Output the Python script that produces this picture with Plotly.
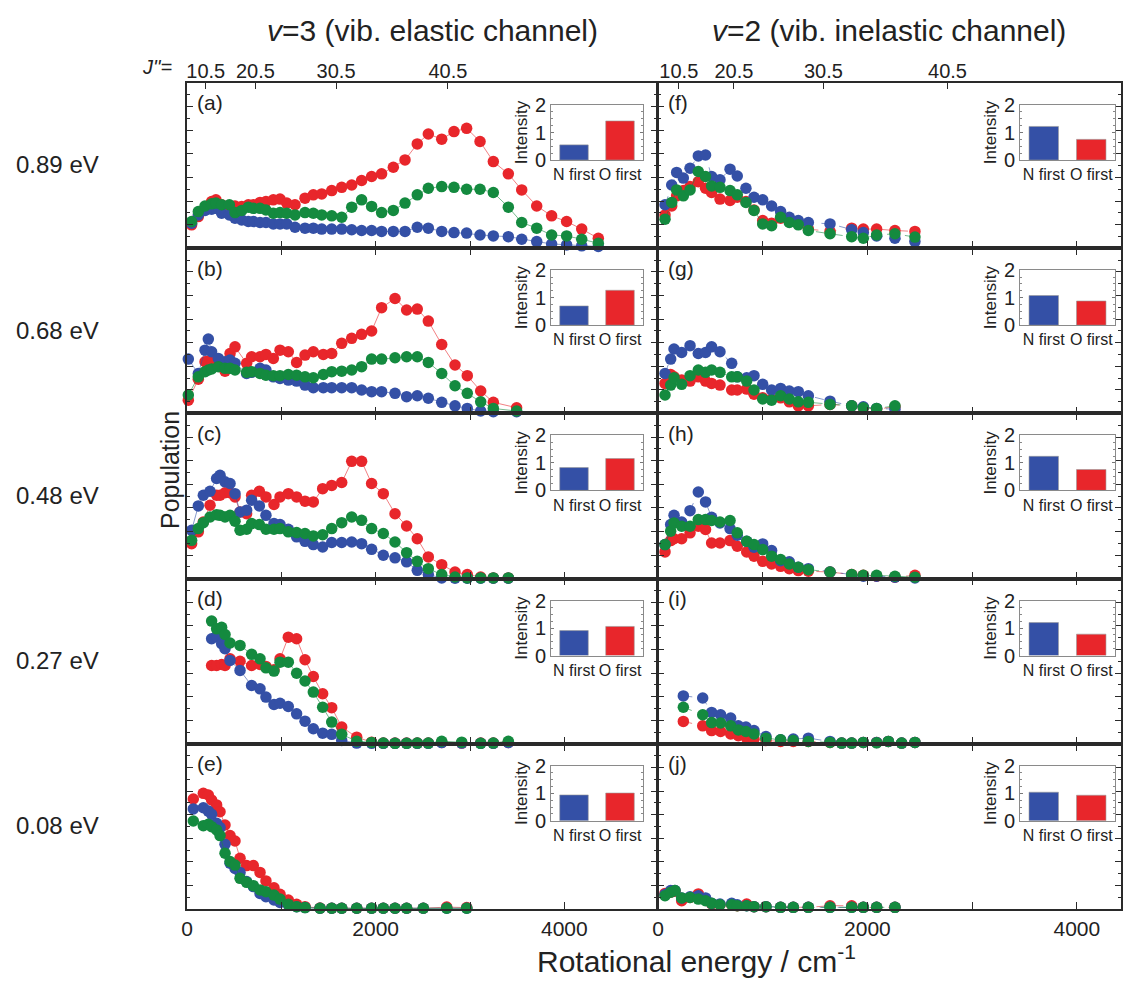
import plotly.graph_objects as go

W, H = 1123, 982

# ---------------- data ----------------
# Panel (a) 0.89 eV, v=3
E_a = [49, 120, 191, 261, 307, 367, 449, 509, 580, 650, 703, 774, 837, 915, 986, 1057, 1145, 1251, 1339, 1428,
       1534, 1640, 1746, 1851, 1957, 2063, 2187, 2311, 2441, 2558, 2700, 2830, 2964, 3106, 3247, 3406, 3548, 3707,
       3865, 4024, 4184, 4360]
red_a = [0.99, 1.34, 1.69, 1.98, 2.05, 1.84, 1.79, 1.79, 1.77, 1.84, 1.84, 1.94, 1.98, 2.05, 2.08, 1.91, 1.84, 2.12,
         2.26, 2.30, 2.44, 2.58, 2.68, 2.87, 3.04, 3.15, 3.43, 3.74, 4.42, 4.84, 4.62, 4.94, 5.08, 4.52, 3.67, 3.15,
         2.47, 1.79, 1.37, 1.13, 0.81, 0.42]
blue_a = [1.06, 1.41, 1.60, 1.65, 1.69, 1.48, 1.41, 1.27, 1.20, 1.13, 1.13, 1.09, 1.09, 1.03, 1.03, 1.03, 0.89, 0.85,
          0.85, 0.81, 0.81, 0.81, 0.78, 0.75, 0.75, 0.71, 0.71, 0.71, 0.89, 0.85, 0.71, 0.66, 0.64, 0.56, 0.52, 0.49,
          0.38, 0.28, 0.18, 0.14, 0.10, 0.07]
green_a = [1.13, 1.55, 1.79, 1.88, 1.91, 1.84, 1.84, 1.51, 1.60, 1.74, 1.69, 1.69, 1.62, 1.48, 1.51, 1.48, 1.41, 1.51,
           1.48, 1.41, 1.37, 1.31, 1.74, 2.05, 1.77, 1.51, 1.60, 1.91, 2.26, 2.54, 2.61, 2.58, 2.50, 2.50, 2.36, 1.74,
           1.09, 0.85, 0.56, 0.52, 0.38, 0.21]

# Panel (b) 0.68 eV, v=3
E_b = [14, 120, 191, 226, 261, 332, 403, 456, 509, 632, 685, 774, 837, 915, 986, 1074, 1162, 1251, 1339, 1445,
       1534, 1640, 1746, 1851, 1957, 2063, 2205, 2328, 2441, 2558, 2700, 2841, 2971, 3113, 3247, 3494]
red_b = [0.56, 1.45, 2.19, 2.22, 2.26, 2.08, 1.79, 2.54, 2.82, 2.12, 2.40, 2.40, 2.50, 2.33, 2.68, 2.61, 2.16, 2.47,
         2.61, 2.50, 2.54, 2.97, 3.18, 3.35, 3.49, 4.48, 4.87, 4.38, 4.42, 3.91, 2.92, 2.05, 1.60, 0.95, 0.47, 0.24]
blue_b = [2.30, 1.69, 2.68, 3.15, 2.61, 2.33, 2.19, 2.26, 2.12, 1.69, 1.74, 1.91, 1.84, 1.55, 1.48, 1.41, 1.37, 1.20,
          1.09, 1.09, 1.09, 1.09, 1.09, 0.99, 0.92, 0.92, 0.85, 0.71, 0.75, 0.64, 0.47, 0.32, 0.21, 0.10, 0.07, 0.07]
green_b = [0.78, 1.55, 1.77, 1.84, 1.88, 1.98, 1.91, 1.91, 1.84, 1.74, 1.77, 1.69, 1.62, 1.60, 1.60, 1.65, 1.62, 1.55,
           1.51, 1.65, 1.77, 1.79, 1.84, 1.98, 2.30, 2.30, 2.36, 2.40, 2.40, 2.16, 1.69, 1.17, 0.85, 0.49, 0.21, 0.10]

# Panel (c) 0.48 eV, v=3
E_c = [49, 120, 173, 244, 314, 350, 403, 456, 509, 562, 632, 685, 767, 837, 922, 986, 1074, 1162, 1251, 1339,
       1438, 1534, 1640, 1746, 1851, 1957, 2081, 2205, 2328, 2441, 2558, 2700, 2841, 2971, 3113, 3247, 3406]
red_c = [1.48, 1.98, 2.40, 3.11, 3.53, 3.53, 3.64, 3.64, 3.46, 2.82, 2.75, 3.53, 3.70, 3.46, 3.14, 3.46, 3.60, 3.46,
         3.28, 3.25, 3.81, 3.95, 4.07, 4.97, 4.97, 4.03, 3.60, 2.75, 2.23, 1.69, 0.92, 0.59, 0.28, 0.17, 0.07, 0.03, 0.03]
blue_c = [2.05, 3.08, 3.53, 3.70, 4.24, 4.38, 4.10, 4.03, 3.60, 2.82, 2.90, 3.32, 3.08, 2.68, 2.33, 2.29, 2.09, 1.77,
          1.58, 1.44, 1.34, 1.53, 1.53, 1.55, 1.48, 1.24, 0.99, 0.88, 0.71, 0.35, 0.17, 0.03, 0.02, 0.02, 0.02, 0.02, 0.02]
green_c = [1.62, 2.12, 2.37, 2.61, 2.71, 2.68, 2.61, 2.68, 2.43, 2.05, 2.09, 2.33, 2.29, 2.09, 2.09, 2.12, 1.98, 1.95,
           1.91, 1.81, 1.86, 2.12, 2.37, 2.61, 2.47, 2.12, 1.91, 1.55, 1.10, 0.73, 0.42, 0.17, 0.07, 0.03, 0.03, 0.03, 0.03]

# Panel (d) 0.27 eV, v=3
E_d = [261, 314, 367, 403, 456, 562, 685, 774, 837, 922, 986, 1074, 1162, 1251, 1339, 1438, 1534, 1640, 1799, 1957,
       2081, 2205, 2328, 2441, 2558, 2700, 2912, 3113, 3247, 3406]
red_d = [3.32, 3.32, 3.36, 3.32, 3.60, 3.50, 3.32, 3.36, 3.28, 3.14, 3.60, 4.52, 4.45, 3.56, 2.85, 2.12, 1.53, 0.71,
         0.28, 0.07, 0.03, 0.03, 0.03, 0.03, 0.03, 0.06, 0.03, 0.03, 0.03, 0.06]
blue_d = [4.45, 4.55, 4.24, 4.03, 3.53, 3.11, 2.47, 2.33, 1.98, 1.67, 1.72, 1.58, 1.27, 0.96, 0.64, 0.45, 0.40, 0.14,
          0.03, 0.02, 0.02, 0.02, 0.02, 0.02, 0.02, 0.05, 0.03, 0.02, 0.02, 0.05]
green_d = [5.20, 4.87, 4.94, 4.63, 4.27, 4.17, 3.79, 3.60, 3.22, 3.08, 3.46, 3.46, 2.99, 2.66, 2.19, 1.55, 0.92, 0.40,
           0.11, 0.06, 0.03, 0.02, 0.02, 0.03, 0.03, 0.11, 0.07, 0.02, 0.03, 0.11]

# Panel (e) 0.08 eV, v=3
E_e = [67, 173, 226, 261, 314, 350, 403, 456, 509, 562, 632, 703, 774, 837, 922, 986, 1074, 1162, 1251, 1410,
       1534, 1640, 1799, 1957, 2081, 2205, 2328, 2505, 2753, 2965]
red_e = [4.66, 4.90, 4.83, 4.62, 4.41, 4.12, 3.56, 3.11, 2.88, 2.15, 1.84, 1.84, 1.55, 1.19, 0.90, 0.62, 0.38, 0.20,
         0.10, 0.04, 0.03, 0.03, 0.03, 0.03, 0.03, 0.03, 0.03, 0.03, 0.08, 0.06]
blue_e = [4.24, 4.29, 4.15, 4.01, 3.63, 3.45, 2.74, 1.94, 1.72, 1.55, 1.16, 0.95, 0.66, 0.52, 0.38, 0.28, 0.17, 0.10,
          0.06, 0.03, 0.03, 0.03, 0.03, 0.03, 0.03, 0.03, 0.03, 0.03, 0.03, 0.03]
green_e = [3.73, 3.53, 3.59, 3.49, 3.35, 3.11, 2.36, 2.01, 1.86, 1.30, 1.13, 0.99, 0.81, 0.73, 0.59, 0.42, 0.20, 0.10,
           0.06, 0.03, 0.03, 0.03, 0.03, 0.03, 0.03, 0.03, 0.03, 0.03, 0.03, 0.03]

# Panel (f) 0.89 eV, v=2
E_f = [67, 131, 178, 242, 306, 385, 454, 512, 592, 688, 757, 840, 917, 1000, 1085, 1171, 1254, 1340, 1436, 1643,
       1850, 1961, 2088, 2263, 2454]
red_f = [1.41, 1.79, 2.22, 2.44, 2.61, 2.82, 2.54, 2.36, 2.08, 2.02, 2.16, 1.98, 1.62, 1.17, 1.06, 1.27, 1.17, 1.03,
         0.81, 0.71, 0.85, 0.81, 0.81, 0.75, 0.71]
blue_f = [1.84, 2.68, 3.21, 2.97, 3.39, 3.91, 3.95, 3.04, 2.90, 3.35, 3.06, 2.54, 2.16, 2.05, 1.79, 1.55, 1.31, 1.17,
          1.09, 1.03, 0.78, 0.66, 0.52, 0.42, 0.28]
green_f = [1.23, 1.94, 2.47, 2.22, 2.47, 3.25, 3.04, 2.64, 2.58, 2.44, 2.26, 1.94, 1.60, 1.03, 0.95, 1.31, 1.09, 0.99,
           0.75, 0.61, 0.49, 0.42, 0.56, 0.61, 0.47]

# Panel (g) 0.68 eV, v=2
E_g = [67, 121, 153, 226, 306, 385, 454, 512, 592, 704, 757, 847, 917, 1000, 1085, 1171, 1254, 1340, 1436, 1643,
       1850, 1961, 2088, 2263]
red_g = [1.27, 1.65, 1.55, 1.41, 1.37, 1.55, 1.37, 1.27, 1.20, 0.99, 0.99, 1.03, 0.81, 0.66, 0.61, 0.66, 0.49, 0.32,
         0.32, 0.38, 0.32, 0.24, 0.18, 0.28]
blue_g = [1.69, 2.30, 2.73, 2.58, 2.87, 2.54, 2.58, 2.82, 2.61, 2.12, 1.55, 1.51, 1.60, 1.23, 0.99, 1.06, 0.95, 0.92,
          0.75, 0.52, 0.32, 0.28, 0.21, 0.18]
green_g = [0.78, 1.20, 1.51, 1.23, 1.60, 1.84, 1.74, 1.84, 1.74, 1.55, 1.55, 1.37, 0.99, 0.61, 0.56, 0.75, 0.61, 0.49,
           0.47, 0.38, 0.32, 0.24, 0.21, 0.32]

# Panel (h) 0.48 eV, v=2
E_h = [67, 121, 153, 226, 306, 385, 454, 512, 592, 688, 757, 847, 917, 1000, 1085, 1171, 1254, 1340, 1436, 1643,
       1850, 1961, 2088, 2263, 2454]
red_h = [1.13, 1.61, 1.69, 1.69, 1.94, 2.22, 2.08, 1.51, 1.51, 1.61, 1.37, 1.13, 0.95, 0.73, 0.62, 0.52, 0.42, 0.34,
         0.31, 0.28, 0.17, 0.14, 0.10, 0.06, 0.14]
blue_h = [1.44, 2.29, 2.68, 2.40, 2.88, 3.67, 3.25, 2.60, 2.36, 2.12, 1.84, 1.58, 1.33, 1.47, 1.19, 0.76, 0.71, 0.48,
          0.42, 0.28, 0.14, 0.10, 0.10, 0.06, 0.03]
green_h = [1.44, 2.01, 2.36, 2.22, 2.22, 2.50, 2.50, 2.46, 2.40, 2.46, 1.94, 1.58, 1.44, 1.23, 0.95, 0.81, 0.62, 0.48,
           0.38, 0.28, 0.17, 0.14, 0.14, 0.10, 0.06]

# Panel (i) 0.27 eV, v=2
E_i = [242, 427, 512, 598, 694, 767, 840, 917, 1031, 1171, 1292, 1436, 1643, 1754, 1850, 1961, 2088, 2200, 2327, 2454]
red_i = [0.95, 0.76, 0.56, 0.52, 0.42, 0.34, 0.28, 0.20, 0.14, 0.10, 0.10, 0.10, 0.06, 0.03, 0.03, 0.06, 0.06, 0.10,
         0.03, 0.06]
blue_i = [2.03, 1.94, 1.33, 1.23, 1.09, 0.76, 0.71, 0.56, 0.31, 0.17, 0.20, 0.24, 0.10, 0.03, 0.03, 0.06, 0.06, 0.10,
          0.03, 0.06]
green_i = [1.55, 1.23, 0.90, 0.88, 0.76, 0.59, 0.52, 0.42, 0.24, 0.17, 0.14, 0.10, 0.06, 0.03, 0.03, 0.06, 0.04, 0.10,
           0.03, 0.06]

# Panel (j) 0.08 eV, v=2
E_j = [67, 121, 162, 226, 306, 385, 454, 512, 592, 704, 757, 847, 917, 1031, 1171, 1292, 1436, 1643, 1850, 1961,
       2088, 2263]
red_j = [0.66, 0.71, 0.75, 0.35, 0.49, 0.64, 0.42, 0.21, 0.18, 0.18, 0.14, 0.21, 0.10, 0.10, 0.07, 0.07, 0.07, 0.14,
         0.14, 0.07, 0.07, 0.07]
blue_j = [0.61, 0.78, 0.78, 0.47, 0.52, 0.56, 0.47, 0.24, 0.21, 0.24, 0.18, 0.14, 0.10, 0.10, 0.07, 0.07, 0.07, 0.07,
          0.07, 0.07, 0.07, 0.07]
green_j = [0.56, 0.71, 0.78, 0.47, 0.49, 0.42, 0.35, 0.24, 0.18, 0.18, 0.14, 0.14, 0.10, 0.10, 0.07, 0.07, 0.07, 0.07,
           0.07, 0.07, 0.07, 0.07]

# inset bar charts (a)..(j)
bar_categories = ["N first", "O first"]
bar_N = [0.55, 0.70, 0.83, 0.91, 0.94, 1.22, 1.08, 1.24, 1.20, 1.04]
bar_O = [1.42, 1.27, 1.16, 1.06, 1.01, 0.75, 0.88, 0.76, 0.78, 0.93]

panel_letters = ["(a)", "(b)", "(c)", "(d)", "(e)", "(f)", "(g)", "(h)", "(i)", "(j)"]
row_labels = ["0.89 eV", "0.68 eV", "0.48 eV", "0.27 eV", "0.08 eV"]
x_ticks = [0, 2000, 4000]
x_ticktext = ["0", "2000", "4000"]
J_labels = ["10.5", "20.5", "30.5", "40.5"]
J_energies = [199, 725, 1580, 2765]

# ---------------- styling / layout ----------------
BLUE = "#3450a6"
RED = "#e8262b"
GREEN = "#148a3f"
LINE_RGBA = {BLUE: "rgba(52,80,166,0.65)", RED: "rgba(232,38,43,0.65)", GREEN: "rgba(20,138,63,0.65)"}
FONT = "Arial, Liberation Sans, Helvetica, sans-serif"
AX = "#2a2a2a"

LEFT_PX = (187, 657)
RIGHT_PX = (658, 1121)
X_MAX = [4982, 4422]
TOP_PX, BOT_PX = 83, 909
ROW_H = (BOT_PX - TOP_PX) / 5
INSET_X_PX = [(551, 643), (1020, 1115)]
INSET_Y_OFF = (22, 77)


def fx(p):
    return p / W


def fy(p):
    return 1 - p / H


panels = [
    (E_a, red_a, blue_a, green_a), (E_b, red_b, blue_b, green_b), (E_c, red_c, blue_c, green_c),
    (E_d, red_d, blue_d, green_d), (E_e, red_e, blue_e, green_e),
    (E_f, red_f, blue_f, green_f), (E_g, red_g, blue_g, green_g), (E_h, red_h, blue_h, green_h),
    (E_i, red_i, blue_i, green_i), (E_j, red_j, blue_j, green_j),
]

fig = go.Figure()
layout = dict(
    width=W, height=H, autosize=False, margin=dict(l=0, r=0, t=0, b=0, pad=0),
    paper_bgcolor="white", plot_bgcolor="rgba(0,0,0,0)", showlegend=False,
    font=dict(family=FONT, color="#222", size=17),
)
annotations = []

for i, (E, r, b, g) in enumerate(panels):
    col, row = i // 5, i % 5
    n = i + 1
    xs = "" if n == 1 else str(n)
    x0, x1 = LEFT_PX if col == 0 else RIGHT_PX
    top = TOP_PX + row * ROW_H
    bot = top + ROW_H
    dash = "solid" if col == 0 else "dash"
    for ys, color in ((r, RED), (b, BLUE), (g, GREEN)):
        fig.add_trace(go.Scatter(
            x=E, y=ys, mode="lines+markers", xaxis="x" + xs, yaxis="y" + xs,
            marker=dict(color=color, size=11.5, line=dict(width=0)),
            line=dict(color=LINE_RGBA[color], width=0.9, dash=dash),
            cliponaxis=False, hoverinfo="skip",
        ))
    layout["xaxis" + xs] = dict(
        domain=[fx(x0), fx(x1)], range=[0, X_MAX[col]], anchor="y" + xs, automargin=False,
        tickvals=x_ticks, ticktext=x_ticktext, showticklabels=(row == 4),
        ticks="inside", ticklen=7, tickwidth=1.2, tickcolor=AX,
        minor=dict(dtick=1000, tick0=0, ticks="inside", ticklen=7, tickwidth=1.2, tickcolor=AX),
        showline=True, linecolor=AX, linewidth=1.6,
        mirror=(True if row == 0 else "ticks"),
        showgrid=False, zeroline=False, tickfont=dict(size=21, family=FONT),
    )
    layout["yaxis" + xs] = dict(
        domain=[fy(bot), fy(top)], range=[0, 7], anchor="x" + xs, automargin=False,
        dtick=1, tick0=0, ticks="inside", ticklen=6, tickwidth=1.2, tickcolor=AX,
        minor=dict(dtick=0.5, ticks="inside", ticklen=3, tickcolor=AX, tickwidth=1),
        showticklabels=False, showline=True, linecolor=AX, linewidth=1.6, mirror="ticks",
        showgrid=False, zeroline=False,
    )
    # panel letter
    annotations.append(dict(
        text=panel_letters[i], x=fx(x0 + 8), y=fy(top + 20), xref="paper", yref="paper",
        xanchor="left", yanchor="middle", showarrow=False, font=dict(size=21, family=FONT, color="#222"),
    ))

    # inset bar chart
    m = i + 11
    ix0, ix1 = INSET_X_PX[col]
    iy0, iy1 = top + INSET_Y_OFF[0], top + INSET_Y_OFF[1]
    fig.add_trace(go.Bar(
        x=bar_categories, y=[bar_N[i], bar_O[i]], xaxis="x%d" % m, yaxis="y%d" % m,
        marker=dict(color=[BLUE, RED], line=dict(color="#999", width=0.6)), width=0.62,
        hoverinfo="skip",
    ))
    layout["xaxis%d" % m] = dict(
        domain=[fx(ix0), fx(ix1)], anchor="y%d" % m, type="category", automargin=False,
        showline=True, linecolor="#8a8a8a", linewidth=1, mirror=True, ticks="", tickangle=0,
        tickfont=dict(size=16, family=FONT, color="#222"), showgrid=False, zeroline=False,
    )
    layout["yaxis%d" % m] = dict(
        domain=[fy(iy1), fy(iy0)], anchor="x%d" % m, range=[0, 2], automargin=False,
        tickvals=[0, 1, 2], ticks="inside", ticklen=3, tickcolor="#777",
        minor=dict(dtick=0.25, ticks="inside", ticklen=2, tickcolor="#888"),
        showline=True, linecolor="#8a8a8a", linewidth=1, mirror="allticks",
        tickfont=dict(size=20, family=FONT, color="#222"), showgrid=False, zeroline=False,
        title=dict(text="Intensity", font=dict(size=17, family=FONT, color="#222"), standoff=2),
    )

# J'' top axes (rotational quantum numbers)
for k, base in enumerate(["", "6"]):
    m = 21 + k
    col = k
    fig.add_trace(go.Scatter(x=[0], y=[-10], xaxis="x%d" % m, yaxis="y" + base, mode="markers",
                             marker=dict(opacity=0), hoverinfo="skip", showlegend=False))
    layout["xaxis%d" % m] = dict(
        overlaying="x" + base, side="top", anchor="y" + base, range=[0, X_MAX[col]], automargin=False,
        tickvals=J_energies, ticktext=J_labels, ticks="inside", ticklen=6, tickwidth=1.2, tickcolor=AX,
        showline=False, showgrid=False, zeroline=False, tickfont=dict(size=20, family=FONT),
    )

# titles and labels
annotations += [
    dict(text="<i>v</i>=3 (vib. elastic channel)", x=fx(432), y=fy(30), font=dict(size=30)),
    dict(text="<i>v</i>=2 (vib. inelastic channel)", x=fx(889), y=fy(30), font=dict(size=30)),
    dict(text="<i>J''</i>=", x=fx(157), y=fy(67), font=dict(size=20)),
    dict(text="Population", x=fx(170), y=fy(470), textangle=-90, font=dict(size=25)),
    dict(text="Rotational energy / cm<sup>-1</sup>", x=fx(696), y=fy(980), yanchor="bottom",
         font=dict(size=30)),
]
for r_i, lab in enumerate(row_labels):
    annotations.append(dict(text=lab, x=fx(57), y=fy(TOP_PX + r_i * ROW_H + 82), font=dict(size=24)))

for a in annotations[10:]:
    a.setdefault("xref", "paper")
    a.setdefault("yref", "paper")
    a.setdefault("showarrow", False)
    a.setdefault("xanchor", "center")
    a.setdefault("yanchor", "middle")
    a["font"].setdefault("family", FONT)
    a["font"].setdefault("color", "#222")

layout["annotations"] = annotations
fig.update_layout(**layout)
fig.write_html("out.html")
